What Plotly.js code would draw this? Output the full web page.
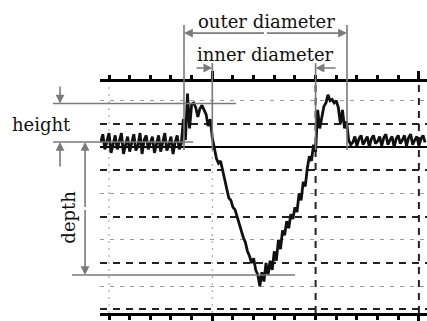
<!DOCTYPE html>
<html><head><meta charset="utf-8">
<script src="https://cdn.plot.ly/plotly-3.0.1.min.js"></script>
<style>html,body{margin:0;padding:0;background:#fff}#chart{width:427px;height:321px}</style>
</head><body><div id="chart"></div>
<script>
// ---- profile data (x in µm-like units, y height) ----
const profileX = [-4,-3,-2,-1,0,1,2,3,4,5,6,7,8,9,10,11,12,13,14,15,16,17,18,19,20,21,22,23,24,25,26,27,28,29,30,31,32,33,34,35,36,37,38,39,40,41,42,43,44,45,46,47,48,49,50,51,52,53,54,55,56,57,58,59,60,61,62,63,64,65,66,67,68,69,70,71,72,73,74,75,76,77,78,79,80,81,82,83,84,85,86,87,88,89,90,91,92,93,94,95,96,97,98,99,100,101,102,103,104,105,106,107,108,109,110,111,112,113,114,115,116,117,118,119,120,121,122,123,124,125,126,127,128,129,130,131,132,133,134,135,136,137,138,139,140,141,142,143,144,145,146,147,148,149,150,151,152,153];
const profileY = [2,5.5,-1,3,6,-2.5,1.5,5,-1,2,6,-3,1,4.5,-2,2.5,5.5,-1.5,0.5,6,-3,3,5,-1,2,4.5,-2.5,1,5,-2,2.5,6,-1.5,1,4.5,-3,2,5,-1,1.5,
 12,3,23,8,18.5,19,17,13,16.5,18,16,14,9,12,4,-1,-5,-7,-6,-10,-14,-18,-22,-23,-26,-27,-30,-34,-37,-39,-41,-45,-47,-50,-48,-53,-55,-60,
 -54,-58,-50,-55,-49,-53,-45,-49,-40,-44,-36,-38,-32,-35,-29,-31,-26,-28,-20,-23,-15,-17,-9,-4,-6,1,-2,
 16,8,12,17.5,19,22.5,20,20.5,19,20,17,10,16,8,11,3,1,
 2,4.5,0.5,3.5,5,1,3,4.5,0,3.5,5,1.5,2.5,4.5,0.5,4,5.5,1,3,4.5,0,3.5,5,1.5,3,5,0.5,4,5.5,1,3,4.5,0.5,3.5,5,2];

// measured crater features
const outerEdges = [36.3, 115.2];
const innerEdges = [50, 100];
const rimLevel = 18.75;
const baseLevel = 2.16;
const bottomLevel = -55.2;
const labels = {outer: "outer diameter", inner: "inner diameter", height: "height", depth: "depth"};

// grid positions
const xGridLight = [0, 50];
const xGridDark = [100, 150];

// ---- geometry ----
const W = 427, H = 321;
const box = {l: 100, r: 427, t: 81.7, b: 313};
const xRange = [-4.36, 153.92];
const yRange = [-71.55, 28.15];
const pxX = (box.r - box.l) / (xRange[1] - xRange[0]);
const pxY = (box.b - box.t) / (yRange[1] - yRange[0]);
const x2Range = [xRange[0] - box.l / pxX, xRange[1] + (W - box.r) / pxX];
const y2Range = [yRange[0] - (H - box.b) / pxY, yRange[1] + box.t / pxY];

const gray = '#7a7a7a';
const serif = {family: 'DejaVu Serif', size: 18, color: '#111'};

const traces = [
  {type: 'scatter', mode: 'lines', x: profileX, y: profileY,
   line: {color: '#111', width: 2.8}, hoverinfo: 'skip', showlegend: false},
  {type: 'scatter', x: [], y: [], xaxis: 'x2', yaxis: 'y2', showlegend: false, hoverinfo: 'skip'}
];

const shapes = [];
xGridLight.forEach(v => shapes.push({type: 'line', xref: 'x', yref: 'y domain', x0: v, x1: v, y0: 0, y1: 1,
  layer: 'below', line: {color: '#999', width: 1, dash: '2px,5px'}}));
xGridDark.forEach(v => shapes.push({type: 'line', xref: 'x', yref: 'y domain', x0: v, x1: v, y0: 0, y1: 1,
  layer: 'below', line: {color: '#222', width: 2, dash: '7px,6px'}}));

function gl(x0, y0, x1, y1) {
  shapes.push({type: 'line', xref: 'x2', yref: 'y2', x0, y0, x1, y1, line: {color: gray, width: 1.6}});
}
outerEdges.forEach(v => gl(v, -1.3, v, 52.6));
innerEdges.forEach(v => gl(v, -1.3, v, 36.2));
gl(-27.1, rimLevel, 61.5, rimLevel);
gl(-27.1, baseLevel, 40.7, baseLevel);
gl(-17.9, bottomLevel, 90, bottomLevel);

const annotations = [];
function arrow(x, y, ax, ay) {
  annotations.push({xref: 'x2', yref: 'y2', axref: 'x2', ayref: 'y2', x, y, ax, ay, text: '',
    showarrow: true, arrowhead: 2, arrowsize: 1.1, arrowwidth: 1.6, arrowcolor: gray, standoff: 0, startstandoff: 0});
}
const outerMid = (outerEdges[0] + outerEdges[1]) / 2;
arrow(outerEdges[0], 49.1, outerMid, 49.1);
arrow(outerEdges[1], 49.1, outerMid, 49.1);
arrow(innerEdges[0], 34.05, 41.6, 34.05);
arrow(innerEdges[1], 34.05, 110.4, 34.05);
arrow(-23.7, rimLevel, -23.7, 26.7);
arrow(-23.7, baseLevel, -23.7, -9);
const depthMid = (baseLevel + bottomLevel) / 2;
arrow(-11.6, baseLevel, -11.6, depthMid);
arrow(-11.6, bottomLevel, -11.6, depthMid);

function txt(t, x, y, angle) {
  annotations.push({xref: 'x2', yref: 'y2', x, y, text: t, showarrow: false, font: serif,
    textangle: angle || 0, xanchor: 'center', yanchor: 'middle'});
}
txt(labels.outer, 76, 54.3);
txt(labels.inner, 75.7, 39.7);
txt(labels.height, -32.9, 9.5);
txt(labels.depth, -19.8, -30.4, -90);

const layout = {
  width: W, height: H, margin: {l: 0, r: 0, t: 0, b: 0},
  paper_bgcolor: '#fff', plot_bgcolor: 'rgba(0,0,0,0)', showlegend: false,
  xaxis: {domain: [box.l / W, box.r / W], range: xRange, showline: true, linecolor: '#000', linewidth: 2.5,
    mirror: 'ticks', ticks: 'outside', tick0: 50, dtick: 100, ticklen: 8, tickwidth: 3, tickcolor: '#000',
    minor: {dtick: 10, ticks: 'outside', ticklen: 4, tickwidth: 3, tickcolor: '#000', showgrid: false},
    showticklabels: false, showgrid: false, zeroline: false, anchor: 'y'},
  yaxis: {domain: [1 - box.b / H, 1 - box.t / H], range: yRange, showline: false, ticks: '', showticklabels: false,
    tick0: 10, dtick: 20, showgrid: true, gridcolor: '#222', gridwidth: 2, griddash: '7px,6px',
    minor: {dtick: 10, showgrid: true, gridcolor: '#9a9a9a', gridwidth: 1, griddash: '4px,6px'},
    zeroline: true, zerolinecolor: '#000', zerolinewidth: 2.5, anchor: 'x'},
  xaxis2: {domain: [0, 1], range: x2Range, visible: false, anchor: 'y2', fixedrange: true},
  yaxis2: {domain: [0, 1], range: y2Range, visible: false, anchor: 'x2', fixedrange: true},
  shapes, annotations
};
Plotly.newPlot('chart', traces, layout, {staticPlot: true, displayModeBar: false});
</script></body></html>
